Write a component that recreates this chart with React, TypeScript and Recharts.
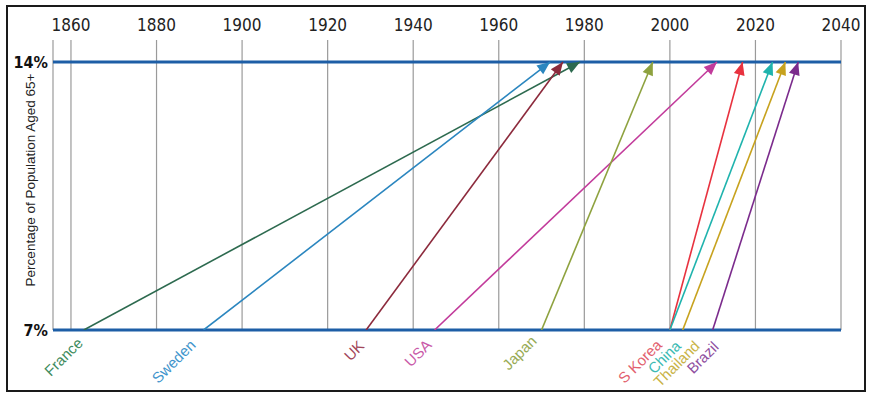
import React from 'react';
import { LineChart, Line, XAxis, YAxis, CartesianGrid, ReferenceLine } from 'recharts';

// years at which each country's 65+ share reached 7% and then 14%
const countries = ['France', 'Sweden', 'UK', 'USA', 'Japan', 'S Korea', 'China', 'Thailand', 'Brazil'];
const yearAt7 = [1863, 1891, 1929, 1945, 1970, 2000, 2000, 2003, 2010];
const yearAt14 = [1979, 1972, 1975, 2011, 1996, 2017, 2024, 2027, 2030];
const lineColors = ['#2d6a4f', '#2b86bf', '#8c2a3c', '#c23b9b', '#8ea23f', '#e8323f', '#1fb3ad', '#c7a21e', '#7b2b8c'];
const labelColors = ['#3f8c5e', '#3f95cc', '#a2465a', '#c95aa8', '#98ab55', '#e2606e', '#3dbab2', '#c9b347', '#8f4f9f'];
const yearTicks = [1860, 1880, 1900, 1920, 1940, 1960, 1980, 2000, 2020, 2040];
const shareTicks = [7, 14];

const COND = "'DejaVu Sans Condensed', 'Liberation Sans', Arial, sans-serif";
const SANS = "'Liberation Sans', Arial, sans-serif";

// small nudges so the crowded labels don't sit on top of each other
const labelNudge: Record<string, [number, number]> = {
  France: [-3, -2], Sweden: [-10, 0], UK: [-4, 1], USA: [-5, 0], Japan: [-7, -4],
  'S Korea': [-10, 0], China: [9, 1], Thailand: [15, 1], Brazil: [4, 2],
};

const arrowDot = (color: string) => (props: any) => {
  const { cx, cy, index, points } = props;
  if (index !== 1 || !points || !points[0]) return <g key={`d${index}`} />;
  const a = Math.atan2(cy - points[0].y, cx - points[0].x);
  const len = 13, half = 5.5;
  const bx = cx - len * Math.cos(a), by = cy - len * Math.sin(a);
  const px = -Math.sin(a) * half, py = Math.cos(a) * half;
  return (
    <polygon key={`d${index}`}
      points={`${cx},${cy} ${bx + px},${by + py} ${bx - px},${by - py}`}
      fill={color} />
  );
};

const startLabel = (name: string, color: string) => (props: any) => {
  const { x, y, index } = props;
  if (index !== 0) return null;
  const [dx, dy] = labelNudge[name] || [0, 0];
  const tx = x + dx + 3, ty = y + 16 + dy;
  return (
    <text x={tx} y={ty} transform={`rotate(-45 ${tx} ${ty})`} textAnchor="end"
      fill={color} style={{ fontFamily: SANS, fontSize: 15 }}>
      {name}
    </text>
  );
};

const axisTitle = (props: any) => {
  const { x, y, height } = props.viewBox;
  const cx = x + 22, cy = y + height / 2 - 5;
  return (
    <text x={cx} y={cy} transform={`rotate(-90 ${cx} ${cy})`} textAnchor="middle"
      dominantBaseline="central" fill="#222" style={{ fontFamily: SANS, fontSize: 13.5 }}>
      Percentage of Population Aged 65+
    </text>
  );
};

export default function App() {
  return (
    <div style={{
      position: 'absolute', left: 6, top: 5, width: 860, height: 387,
      border: '2px solid #1a1a1a', boxSizing: 'border-box', background: '#fff'
    }}>
      <LineChart width={856} height={383} margin={{ top: 0, right: 23, bottom: 60, left: 0 }}>
        <CartesianGrid horizontal={false} stroke="#9a9a9a" strokeWidth={1.2} />
        <XAxis type="number" dataKey="year" orientation="top" height={33}
          domain={[1855.8, 2040]} allowDataOverflow ticks={yearTicks}
          axisLine={false} tickLine={false} tickSize={0} tickMargin={9}
          tick={{ fontFamily: COND, fontSize: 17, fill: '#222' }} />
        <YAxis type="number" dataKey="share" width={45} domain={[7, 14.575]}
          allowDataOverflow ticks={shareTicks} tickFormatter={(v) => `${v}%`}
          axisLine={false} tickLine={false} tickSize={0} tickMargin={5}
          tick={{ fontFamily: COND, fontSize: 16, fontWeight: 700, fill: '#111' }}
          label={axisTitle} />
        <ReferenceLine y={14} stroke="#1d5ea6" strokeWidth={3} />
        <ReferenceLine y={7} stroke="#1d5ea6" strokeWidth={3} />
        {countries.map((name, i) => (
          <Line key={name} dataKey="share" type="linear"
            data={[{ year: yearAt7[i], share: 7 }, { year: yearAt14[i], share: 14 }]}
            stroke={lineColors[i]} strokeWidth={1.6}
            dot={arrowDot(lineColors[i])} activeDot={false}
            label={startLabel(name, labelColors[i])}
            isAnimationActive={false} />
        ))}
      </LineChart>
    </div>
  );
}
